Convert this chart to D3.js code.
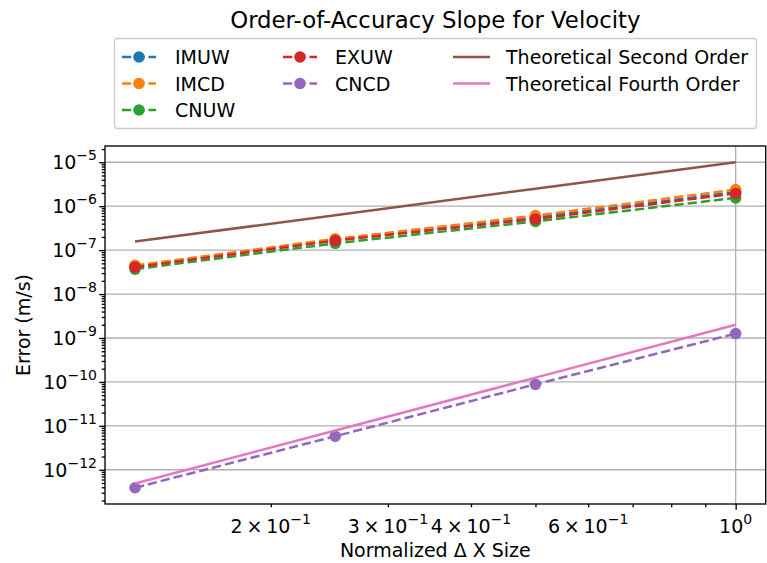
<!DOCTYPE html>
<html><head><meta charset="utf-8">
<script src="https://cdn.jsdelivr.net/npm/d3@7"></script>
<style>body{margin:0;background:#fff}svg{display:block;font-family:"DejaVu Sans",sans-serif}</style>
</head><body><svg id="c" width="767" height="563"></svg>
<script>
// ---- data ----
const dxSizes = [0.125, 0.25, 0.5, 1.0];
const imuw = [4.3e-8, 1.7e-7, 5.6e-7, 2.1e-6];
const imcd = [4.5e-8, 1.8e-7, 6.1e-7, 2.4e-6];
const cnuw = [3.7e-8, 1.43e-7, 4.5e-7, 1.55e-6];
const exuw = [4.1e-8, 1.65e-7, 5.1e-7, 1.95e-6];
const cncd = [3.9e-13, 5.8e-12, 8.8e-11, 1.26e-9];
const theory2 = [1.5625e-7, 6.25e-7, 2.5e-6, 1.0e-5];
const theory4 = [4.88e-13, 7.8e-12, 1.25e-10, 2.0e-9];
const seriesNames = ["IMUW","IMCD","CNUW","EXUW","CNCD","Theoretical Second Order","Theoretical Fourth Order"];
const yMajorExps = [-5,-6,-7,-8,-9,-10,-11,-12];
const xLabelTicks = [{m:2,e:-1},{m:3,e:-1},{m:4,e:-1},{m:6,e:-1},{m:1,e:0}];

const series = [
  {name:seriesNames[0], vals:imuw, color:"#1f77b4", dash:true, marker:true},
  {name:seriesNames[1], vals:imcd, color:"#ff7f0e", dash:true, marker:true},
  {name:seriesNames[2], vals:cnuw, color:"#2ca02c", dash:true, marker:true},
  {name:seriesNames[3], vals:exuw, color:"#d62728", dash:true, marker:true},
  {name:seriesNames[4], vals:cncd, color:"#9467bd", dash:true, marker:true},
  {name:seriesNames[5], vals:theory2, color:"#8c564b", dash:false, marker:false},
  {name:seriesNames[6], vals:theory4, color:"#e377c2", dash:false, marker:false}
];

const FS = 19, SUP = 14;
const svg = d3.select("#c");
const L=105, R=765.7, T=146, B=504;
function padLog(ext){const a=Math.log10(ext[0]),b=Math.log10(ext[1]),p=(b-a)*0.05;return [Math.pow(10,a-p),Math.pow(10,b+p)];}
const allY = series.flatMap(s=>s.vals);
const x = d3.scaleLog().domain(padLog(d3.extent(dxSizes))).range([L,R]);
const y = d3.scaleLog().domain(padLog(d3.extent(allY))).range([B,T]);

const gridC="#b0b0b0";
const g = svg.append("g");
yMajorExps.forEach(e=>{
  g.append("line").attr("x1",L).attr("x2",R).attr("y1",y(Math.pow(10,e))).attr("y2",y(Math.pow(10,e)))
   .attr("stroke",gridC).attr("stroke-width",1.33);
});
g.append("line").attr("x1",x(1)).attr("x2",x(1)).attr("y1",T).attr("y2",B).attr("stroke",gridC).attr("stroke-width",1.33);

svg.append("clipPath").attr("id","clip").append("rect").attr("x",L).attr("y",T).attr("width",R-L).attr("height",B-T);
const plot = svg.append("g").attr("clip-path","url(#clip)");
const line = d3.line().x((d,i)=>x(dxSizes[i])).y(d=>y(d));
series.forEach(s=>{
  plot.append("path").datum(s.vals).attr("d",line).attr("fill","none").attr("stroke",s.color)
    .attr("stroke-width",2.5).attr("stroke-dasharray",s.dash?"9.25,4":null);
  if(s.marker){
    plot.selectAll(null).data(s.vals).enter().append("circle")
      .attr("cx",(d,i)=>x(dxSizes[i])).attr("cy",d=>y(d)).attr("r",5.8).attr("fill",s.color);
  }
});

const yMinor=[], xMinor=[];
for(let e=-13;e<=-4;e++) for(let k=2;k<=9;k++){const v=k*Math.pow(10,e); if(v>=y.domain()[0]&&v<=y.domain()[1]) yMinor.push(v);}
for(let e=-2;e<=0;e++) for(let k=2;k<=9;k++){const v=k*Math.pow(10,e); if(v>=x.domain()[0]&&v<=x.domain()[1]) xMinor.push(v);}
const yMaj = yMajorExps.map(e=>Math.pow(10,e));
const ax = svg.append("g");
ax.append("g").attr("transform",`translate(${L},0)`).call(d3.axisLeft(y).tickValues(yMaj).tickSize(5.8).tickFormat(()=>""));
ax.append("g").attr("transform",`translate(${L},0)`).call(d3.axisLeft(y).tickValues(yMinor).tickSize(3.3).tickFormat(()=>""));
ax.append("g").attr("transform",`translate(0,${B})`).call(d3.axisBottom(x).tickValues([1]).tickSize(5.8).tickFormat(()=>""));
ax.append("g").attr("transform",`translate(0,${B})`).call(d3.axisBottom(x).tickValues(xMinor).tickSize(3.3).tickFormat(()=>""));
ax.selectAll(".domain").remove();
ax.selectAll(".tick line").attr("stroke","#000").attr("stroke-width",1.33);
svg.append("rect").attr("x",L).attr("y",T).attr("width",R-L).attr("height",B-T).attr("fill","none").attr("stroke","#000").attr("stroke-width",1.33);

yMajorExps.forEach(e=>{
  const t = svg.append("text").attr("x",97).attr("y",y(Math.pow(10,e))+7).attr("text-anchor","end").attr("font-size",FS).attr("fill","#000");
  t.append("tspan").text("10");
  t.append("tspan").attr("dy",-9).attr("font-size",SUP).text("\u2212"+Math.abs(e));
});
xLabelTicks.forEach(tk=>{
  const v = tk.m*Math.pow(10,tk.e);
  const t = svg.append("text").attr("x",x(v)).attr("y",533).attr("text-anchor","middle").attr("font-size",FS).attr("fill","#000");
  if(tk.m!==1){ t.append("tspan").text(tk.m+"\u2009\u00d7\u200910"); }
  else t.append("tspan").text("10");
  t.append("tspan").attr("dy",-9).attr("font-size",SUP).text(tk.e<0?"\u2212"+Math.abs(tk.e):String(tk.e));
});

svg.append("text").attr("x",(L+R)/2).attr("y",557).attr("text-anchor","middle").attr("font-size",FS).text("Normalized \u0394 X Size");
svg.append("text").attr("transform",`translate(30,${(T+B)/2}) rotate(-90)`).attr("text-anchor","middle").attr("font-size",FS).text("Error (m/s)");
svg.append("text").attr("x",(L+R)/2).attr("y",28).attr("text-anchor","middle").attr("font-size",22.8).text("Order-of-Accuracy Slope for Velocity");

const lg = svg.append("g");
lg.append("rect").attr("x",114.5).attr("y",38.5).attr("width",642).attr("height",90).attr("rx",3)
  .attr("fill","#fff").attr("fill-opacity",0.8).attr("stroke","#cccccc").attr("stroke-width",1.33);
const cols=[{hx:122,tx:175},{hx:283,tx:335},{hx:453,tx:506}];
const rows=[57,83.5,110];
const layout=[[0,0],[0,1],[0,2],[1,0],[1,1],[2,0],[2,1]];
series.forEach((s,i)=>{
  const c=cols[layout[i][0]], ry=rows[layout[i][1]];
  const hl = s.marker?34:37;
  lg.append("line").attr("x1",c.hx).attr("x2",c.hx+hl).attr("y1",ry).attr("y2",ry).attr("stroke",s.color).attr("stroke-width",2.5)
    .attr("stroke-dasharray",s.dash?"9.25,4":null);
  if(s.marker) lg.append("circle").attr("cx",c.hx+hl/2).attr("cy",ry).attr("r",5.8).attr("fill",s.color);
  lg.append("text").attr("x",c.tx).attr("y",ry+7).attr("font-size",FS).text(s.name);
});
</script></body></html>
